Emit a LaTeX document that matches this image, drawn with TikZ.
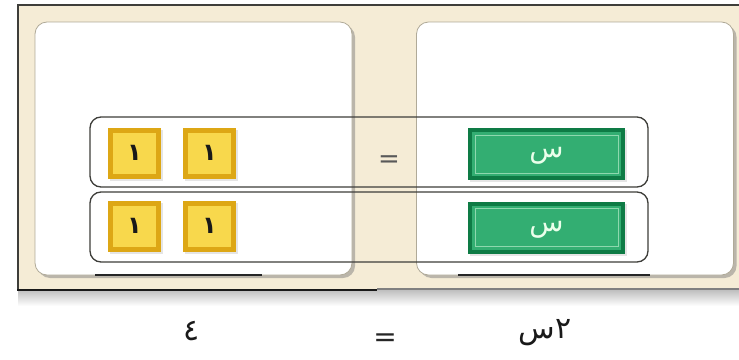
\documentclass[tikz,border=0pt]{standalone}
\usepackage{fontspec}
\newfontfamily\arabicfont[Script=Arabic]{DejaVu Sans}
\newfontfamily\symfont{DejaVu Sans}
\TeXXeTstate=1
\usetikzlibrary{shadows}
\definecolor{cream}{HTML}{F5ECD6}
\definecolor{framedark}{HTML}{3E3E3A}
\definecolor{panelline}{HTML}{B0AA98}
\definecolor{yelout}{HTML}{DDA715}
\definecolor{yelin}{HTML}{F8D84C}
\definecolor{grnout}{HTML}{0E7B45}
\definecolor{grnin}{HTML}{33AE72}
\definecolor{grnline}{HTML}{8ED8AE}
\tikzset{
  panel/.style={draw=panelline, line width=0.8pt, fill=white, rounded corners=12pt,
    minimum width=317pt, minimum height=253pt, inner sep=0pt,
    drop shadow={shadow xshift=3pt, shadow yshift=-3pt, opacity=0.5, fill=black!50}},
  rowbox/.style={draw=framedark, line width=1.3pt, rounded corners=11pt,
    minimum width=558pt, minimum height=70pt, inner sep=0pt},
  unittile/.style={fill=yelout, minimum width=53pt, minimum height=51pt, inner sep=0pt,
    font=\arabicfont\bfseries\fontsize{24}{24}\selectfont, text=black!90,
    drop shadow={shadow xshift=2pt, shadow yshift=-2pt, opacity=0.25, fill=black!40},
    path picture={\fill[yelin] ([shift={(5pt,5pt)}]path picture bounding box.south west)
      rectangle ([shift={(-5pt,-5pt)}]path picture bounding box.north east);}},
  xtile/.style={fill=grnout, minimum width=157pt, minimum height=52pt, inner sep=0pt,
    text height=7pt, text depth=0pt,
    font=\arabicfont\fontsize{28}{28}\selectfont, text=white!92!green,
    drop shadow={shadow xshift=2pt, shadow yshift=-2pt, opacity=0.25, fill=black!40},
    path picture={\fill[grnin] ([shift={(4pt,4pt)}]path picture bounding box.south west)
      rectangle ([shift={(-4pt,-4pt)}]path picture bounding box.north east);
      \draw[grnline, line width=0.8pt] ([shift={(7pt,7pt)}]path picture bounding box.south west)
      rectangle ([shift={(-7pt,-7pt)}]path picture bounding box.north east);}},
  eqsign/.style={font=\symfont\fontsize{26}{26}\selectfont, inner sep=0pt},
  lbl/.style={font=\arabicfont\fontsize{30}{30}\selectfont, inner sep=0pt, text=black!90}
}
\begin{document}
\begin{tikzpicture}[x=1pt, y=-1pt]
\useasboundingbox (0,0) rectangle (739,359);
\clip (0,0) rectangle (739,359);
\fill[white] (0,0) rectangle (739,359);
% shadow under frame
\shade[top color=black!25, bottom color=white] (18,290) rectangle (745,306);
% frame
\fill[cream] (18,5) rectangle (745,290);
\draw[framedark, line width=1.5pt] (18,290) -- (18,5) -- (745,5);
\draw[black!50, line width=1.5pt] (377,289) -- (745,289);
\draw[black!90, line width=2.6pt] (17.3,290) -- (377,290);
% panels
\node[panel] (lp) at (193.5,148.5) {};
\node[panel] (rp) at (575,148.5) {};
\coordinate (lu1) at (95,275); \coordinate (lu2) at (262,275);
\coordinate (ru1) at (458,275); \coordinate (ru2) at (650,275);
\draw[black!85, line width=1.5pt] (lu1) -- (lu2);
\draw[black!85, line width=1.5pt] (ru1) -- (ru2);
% rows
\node[rowbox] (row1) at (369,152) {};
\node[rowbox] (row2) at (369,227) {};
% tiles
\node[unittile] (u1) at (134.5,153) {١};
\node[unittile] (u2) at (209.5,153) {١};
\node[unittile] (u3) at (134.5,226) {١};
\node[unittile] (u4) at (209.5,226) {١};
\node[xtile] (x1) at (546.5,154) {\beginR س\endR};
\node[xtile] (x2) at (546.5,227.5) {\beginR س\endR};
% equals in frame
\node[eqsign, text=black!65] (eq1) at (389,162) {=};
% bottom labels
\node[lbl] (l4) at (192,331) {٤};
\node[eqsign, text=black!85, font=\symfont\fontsize{28}{28}\selectfont] (eq2) at (385,340) {=};
\node[lbl] (l2x) at (545,333) {\beginR ٢س\endR};
\end{tikzpicture}
\end{document}
